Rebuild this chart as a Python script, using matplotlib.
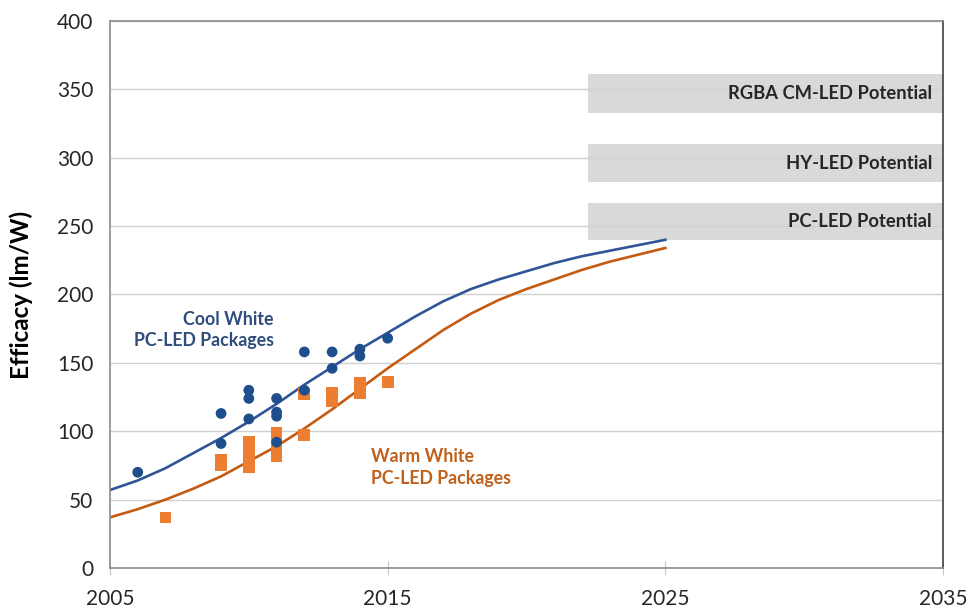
"""
LED 封装光效趋势图: 冷白/暖白 PC-LED 测量点、拟合曲线与各技术潜力区间
输出: out.png
"""
import matplotlib
matplotlib.use("Agg")
import matplotlib.pyplot as plt
from matplotlib.patches import Rectangle

plt.rcParams["font.family"] = ["Lato", "DejaVu Sans"]

# --- measured packages ---
cool_years = [2006, 2009, 2009, 2010, 2010, 2010, 2011, 2011, 2011, 2011,
              2012, 2012, 2013, 2013, 2014, 2014, 2015]
cool_eff = [70, 113, 91, 130, 124, 109, 124, 114, 111, 92,
            158, 130, 158, 146, 160, 155, 168]

warm_years = [2007, 2009, 2009, 2010, 2010, 2010, 2010, 2011, 2011, 2011, 2011,
              2012, 2012, 2013, 2013, 2014, 2014, 2015]
warm_eff = [37, 79, 75, 92, 86, 80, 74, 99, 93, 86, 82,
            127, 97, 128, 122, 135, 128, 136]

# --- fitted projections, read per year ---
curve_years = list(range(2005, 2026))
cool_fit = [57, 64, 73, 84, 95, 107, 120, 134, 147, 160, 172,
            184, 195, 204, 211, 217, 223, 228, 232, 236, 240]
warm_fit = [37, 43, 50, 58, 67, 78, 89, 102, 116, 131, 146,
            160, 174, 186, 196, 204, 211, 218, 224, 229, 234]

# --- potential bands ---
band_labels = ["RGBA CM-LED Potential", "HY-LED Potential", "PC-LED Potential"]
band_low = [333, 282, 240]
band_high = [361, 310, 267]
band_start = 2022.2

x_ticks = [2005, 2015, 2025, 2035]
y_ticks = list(range(0, 401, 50))

BLUE_LINE = "#2F5597"
BLUE_DOT = "#1F4E8C"
ORANGE_LINE = "#C55A11"
ORANGE_SQ = "#ED7D31"


def main():
    fig = plt.figure(figsize=(9.69, 6.08), dpi=100)
    ax = fig.add_axes([0.1135, 0.0658, 0.8597, 0.8997])

    ax.set_xlim(2005, 2035)
    ax.set_ylim(0, 400)

    for lo, hi, label in zip(band_low, band_high, band_labels):
        ax.add_patch(Rectangle((band_start, lo), 2035 - band_start, hi - lo,
                               facecolor="#D9D9D9", edgecolor="none", zorder=0.2))
        ax.text(2034.6, (lo + hi) / 2, label, ha="right", va="center",
                fontsize=13.2, fontweight="bold", color="#262626", zorder=3)

    for y in y_ticks[1:]:
        ax.axhline(y, color="#D0D0D0", lw=1, zorder=0.5)

    ax.plot(curve_years, cool_fit, color=BLUE_LINE, lw=1.9, zorder=2)
    ax.plot(curve_years, warm_fit, color=ORANGE_LINE, lw=1.9, zorder=2)

    ax.scatter(warm_years, warm_eff, marker="s", s=72, color=ORANGE_SQ,
               edgecolors="none", zorder=3)
    ax.scatter(cool_years, cool_eff, marker="o", s=60, color=BLUE_DOT,
               edgecolors="none", zorder=4)

    ax.text(2010.9, 174, "Cool White\nPC-LED Packages", ha="right", va="center",
            fontsize=12.8, fontweight="bold", color="#2E4D7B", linespacing=1.35)
    ax.text(2014.4, 73.5, "Warm White\nPC-LED Packages", ha="left", va="center",
            fontsize=12.8, fontweight="bold", color="#C0601A", linespacing=1.4)

    ax.set_xticks(x_ticks)
    ax.set_yticks(y_ticks)
    ax.tick_params(axis="x", direction="inout", length=10, color="#C8C8C8",
                   labelsize=15, labelcolor="#262626", pad=10)
    ax.tick_params(axis="y", length=0, labelsize=15, labelcolor="#262626", pad=12)

    for side in ("left", "top", "bottom"):
        ax.spines[side].set_color("#8C8C8C")
        ax.spines[side].set_linewidth(1.2)
    ax.spines["right"].set_color("#404040")
    ax.spines["right"].set_linewidth(1.2)

    ax.set_ylabel("Efficacy (lm/W)", fontsize=17.5, fontweight="bold",
                  color="#000000")
    ax.yaxis.set_label_coords(-0.092, 0.5)

    fig.savefig("out.png", dpi=100, facecolor="white")
    plt.close(fig)


if __name__ == "__main__":
    main()
